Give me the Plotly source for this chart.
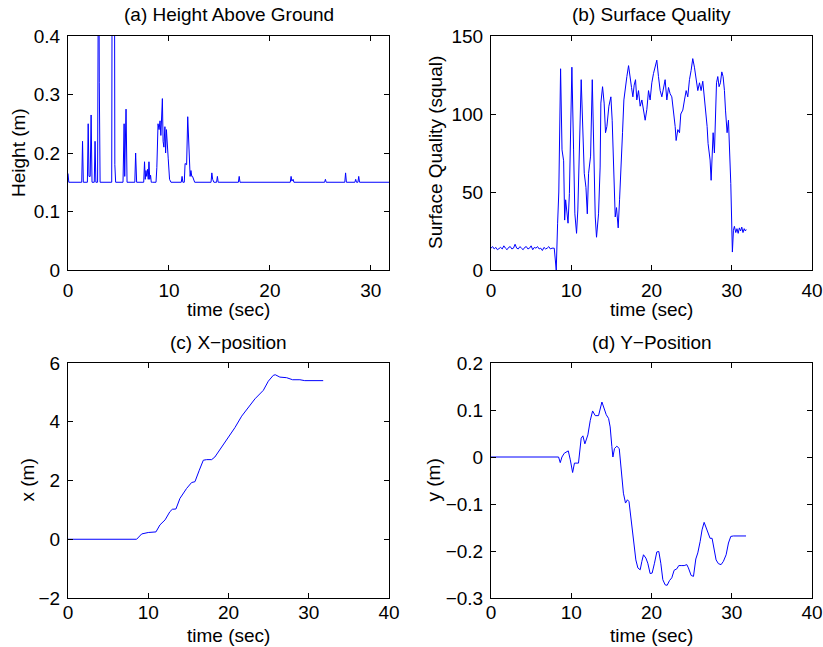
import plotly.graph_objects as go

# ---------------- data ----------------
# (a) Height above ground
t_a = [0, 0.08, 0.2, 1.36, 1.44, 1.52, 1.92, 2.0, 2.08, 2.2, 2.29, 2.38, 2.6, 2.68, 2.76,
       2.93, 3.0, 3.07, 3.1, 3.18, 4.33, 4.38, 4.6, 4.64, 4.72,
       5.45, 5.56, 5.62, 5.66, 5.75, 5.85, 6.62, 6.7, 6.8,
       7.5, 7.58, 7.65, 7.72, 7.8, 7.88, 7.95, 8.02, 8.1, 8.18, 8.25, 8.35,
       8.72, 8.8, 8.92, 9.02, 9.12, 9.2, 9.28, 9.35, 9.42, 9.5, 9.6, 9.67, 9.75, 9.85, 9.93, 10.06, 10.2,
       11.22, 11.3, 11.38, 11.52, 11.6, 11.75, 11.86, 11.95, 12.02, 12.1, 12.18, 12.26, 12.34, 12.42, 12.55,
       14.17, 14.25, 14.33, 14.45, 14.72, 14.8, 14.88,
       16.88, 16.96, 17.04,
       22.02, 22.1, 22.18, 22.3, 22.38,
       25.42, 25.5, 25.58,
       27.42, 27.5, 27.58,
       28.42, 28.5, 28.58, 28.72, 28.8, 28.88,
       31.8]
h_a = [0.165, 0.15, 0.15, 0.15, 0.22, 0.15, 0.15, 0.25, 0.16, 0.16, 0.265, 0.15, 0.15, 0.22, 0.15,
       0.15, 0.5, 0.5, 0.32, 0.15, 0.15, 0.6, 0.6, 0.18, 0.15,
       0.15, 0.25, 0.16, 0.2, 0.275, 0.15, 0.15, 0.2, 0.15,
       0.15, 0.185, 0.155, 0.17, 0.16, 0.172, 0.155, 0.185, 0.155, 0.162, 0.15, 0.15,
       0.15, 0.175, 0.25, 0.24, 0.255, 0.23, 0.255, 0.293, 0.22, 0.21, 0.245, 0.2, 0.24, 0.2, 0.19, 0.155, 0.15,
       0.15, 0.16, 0.15, 0.15, 0.182, 0.18, 0.262, 0.22, 0.2, 0.16, 0.17, 0.16, 0.16, 0.155, 0.15,
       0.15, 0.166, 0.155, 0.15, 0.15, 0.16, 0.15,
       0.15, 0.16, 0.15,
       0.15, 0.16, 0.152, 0.155, 0.15,
       0.15, 0.155, 0.15,
       0.15, 0.166, 0.15,
       0.15, 0.155, 0.15, 0.15, 0.16, 0.15,
       0.15]

# (b) Surface quality
t_b = [0.0, 0.2, 0.4, 0.6, 0.8, 1.0, 1.2, 1.4, 1.6, 1.8, 2.0, 2.2, 2.4, 2.6, 2.8, 3.0, 3.2, 3.4,
       3.6, 3.8, 4.0, 4.2, 4.4, 4.6, 4.8, 5.0, 5.2, 5.4, 5.6, 5.8, 6.0, 6.2, 6.4, 6.6, 6.8, 7.0,
       7.2, 7.4, 7.6, 7.88, 8.13, 8.3, 8.45, 8.67,
       8.85, 9.05, 9.18, 9.3, 9.47, 9.6, 9.77, 10.08,
       10.29, 10.45, 10.66, 10.82, 11.24, 11.45, 11.62, 11.83, 12.0, 12.16, 12.41,
       12.62, 12.82, 12.99, 13.15, 13.4, 13.6, 13.69, 13.9, 14.1, 14.27, 14.44, 14.69, 14.94,
       15.1, 15.31, 15.48, 15.64, 15.85, 16.02, 16.18, 16.39, 16.56,
       16.72, 16.93, 17.14, 17.34, 17.51, 17.68, 17.84, 18.01, 18.17, 18.38, 18.59, 18.8, 19.0,
       19.21, 19.42, 19.63, 19.83, 20.04, 20.25, 20.46, 20.66, 20.87, 21.08, 21.29, 21.49, 21.7,
       21.91, 22.12, 22.32, 22.53, 22.95, 23.07, 23.28, 23.49, 23.65, 23.9, 24.11, 24.32, 24.52,
       24.73, 24.94, 25.14, 25.35, 25.56, 25.77, 25.98, 26.18, 26.39, 26.56, 26.76, 26.93, 27.05,
       27.3, 27.43, 27.55, 27.68, 27.84, 27.97, 28.1, 28.26, 28.42, 28.59, 28.76, 28.92, 29.09,
       29.22, 29.42, 29.59, 29.88, 30.08, 30.21, 30.33, 30.5, 30.65, 30.8, 30.95, 31.1, 31.25,
       31.4, 31.55, 31.7, 31.8]
q_b = [14, 15, 13.5, 14.5, 13, 14, 14.5, 13.5, 15.5, 14, 13, 14.5, 15, 13.5, 14, 16.5, 14, 13.5,
       15, 14, 13, 14.5, 15, 13.5, 14, 15.5, 13, 14.5, 14, 15, 13.5, 14, 12.5, 14.5, 13.5, 14,
       15, 13.5, 14, 14, 0, 30, 50, 129,
       77, 70, 32, 45, 36, 30, 49, 130,
       77, 36, 23.5, 38.5, 122, 83, 62, 53, 36, 62, 73,
       122, 73, 34, 21, 36, 66, 107, 117.5, 107, 88, 92, 105, 111,
       96, 62, 34, 40, 27, 45, 68, 88, 109,
       117, 124, 131, 122, 117, 111, 118.5, 122, 109, 115, 105, 109, 102.5,
       96, 103, 115, 109, 120, 126, 130, 134.5, 124, 115, 111, 117, 122,
       109, 117, 113, 111, 92, 83, 90, 88, 100, 102.5, 109, 115, 111,
       122, 128, 135.5, 130, 122, 115, 120, 115, 121, 113, 102.5, 92, 81,
       70.5, 57.5, 75, 88, 75, 102.5, 120, 124, 117.5, 120, 127, 124, 115,
       102.5, 88, 96, 55.5, 11.5, 25.5, 28, 24, 26.5, 23.5, 27, 25, 27.5,
       24, 26.5, 25, 26]

# (c) X-position
t_c = [0, 8.55, 9.18, 10.0, 10.96, 11.46, 12.1, 12.7, 13.0, 13.45, 13.95, 14.78, 15.4, 15.82,
       16.36, 16.86, 17.28, 17.9, 18.3, 19.14, 19.97, 20.8, 21.64, 22.47, 23.3, 24.34, 24.96,
       25.58, 25.83, 26.4, 27.24, 27.99, 28.9, 29.5, 31.8]
x_c = [0, 0, 0.18, 0.23, 0.25, 0.49, 0.66, 0.94, 1.02, 1.03, 1.39, 1.73, 1.93, 1.96,
       2.35, 2.69, 2.71, 2.71, 2.8, 3.14, 3.48, 3.8, 4.19, 4.48, 4.78, 5.07, 5.38,
       5.58, 5.6, 5.52, 5.5, 5.43, 5.43, 5.4, 5.4]

# (d) Y-position
t_d = [0, 8.42, 8.63, 8.84, 9.13, 9.63, 9.88, 10.17, 10.4, 10.9, 11.24, 11.45, 11.7, 12.07,
       12.37, 12.66, 12.99, 13.4, 13.82, 14.02, 14.36, 14.65, 14.85, 15.06, 15.19, 15.39, 15.68,
       15.98, 16.22, 16.5, 16.76, 17.0, 17.2, 17.47, 17.76, 18.05, 18.3, 18.59, 18.8, 19.0,
       19.3, 19.54, 19.83, 20.08, 20.37, 20.66, 20.91, 21.16, 21.41, 21.7, 21.95, 22.24, 22.53,
       22.82, 23.15, 23.4, 23.78, 24.07, 24.4, 24.6, 24.94, 25.23, 25.52, 25.77, 26.06, 26.3,
       26.56, 26.8, 27.1, 27.3, 27.55, 27.8, 28.05, 28.34, 28.67, 28.96, 29.3, 29.59, 29.88,
       30.2, 31.78]
y_d = [0, 0, -0.012, 0, 0.008, 0.013, -0.006, -0.033, -0.013, -0.013, 0.04, 0.045, 0.028, 0.047,
       0.078, 0.098, 0.088, 0.088, 0.117, 0.107, 0.09, 0.082, 0.064, 0.022, 0, 0.018, 0.023,
       0.018, -0.02, -0.077, -0.098, -0.091, -0.095, -0.134, -0.176, -0.219, -0.236, -0.24, -0.222, -0.208,
       -0.215, -0.226, -0.248, -0.247, -0.226, -0.202, -0.201, -0.226, -0.261, -0.272, -0.273, -0.263, -0.257,
       -0.241, -0.238, -0.231, -0.231, -0.231, -0.229, -0.236, -0.252, -0.254, -0.217, -0.204, -0.18, -0.155,
       -0.139, -0.151, -0.165, -0.173, -0.173, -0.197, -0.219, -0.227, -0.229, -0.222, -0.208, -0.183, -0.169,
       -0.168, -0.168]

titles = ["(a) Height Above Ground", "(b) Surface Quality", "(c) X\u2212position", "(d) Y\u2212Position"]
ylabels = ["Height (m)", "Surface Quality (squal)", "x (m)", "y (m)"]
xlabel = "time (sec)"

# ---------------- figure ----------------
W, H = 823, 647
FONT = "Liberation Sans, Arial, Helvetica, sans-serif"
BLUE = "#0000ff"

fig = go.Figure()
series = [(t_a, h_a), (t_b, q_b), (t_c, x_c), (t_d, y_d)]
for i, (tx, ty) in enumerate(series):
    ax = "" if i == 0 else str(i + 1)
    fig.add_trace(go.Scatter(x=tx, y=ty, mode="lines", line=dict(color=BLUE, width=1),
                             xaxis="x" + ax, yaxis="y" + ax, showlegend=False, hoverinfo="skip"))

# plot areas in pixels (left, right, top, bottom)
boxes = [(68, 389, 36, 270), (491, 812, 36, 270), (68, 389, 363, 598), (491, 812, 363, 598)]
ylabel_x = [18, 435, 27, 433]          # pixel centre of the rotated y-axis titles
xlabel_gap = [39, 39, 37, 37]          # pixel distance below the axis of the x-axis title centre
xtick_standoff = [3, 3, -3, -3]
xranges = [[0, 31.8], [0, 40], [0, 40], [0, 40]]
yranges = [[0, 0.4], [0, 150], [-2, 6], [-0.3, 0.2]]
xdt = [10, 10, 10, 10]
ydt = [0.1, 50, 2, 0.1]

txtfont = dict(family=FONT, size=19, color="black")
axis_common = dict(showline=True, linecolor="black", linewidth=1, mirror="ticks",
                   ticks="inside", ticklen=5, tickcolor="black", showgrid=False, zeroline=False,
                   automargin=False, tickfont=txtfont)
layout = dict(width=W, height=H, margin=dict(l=0, r=0, t=0, b=0, autoexpand=False),
              paper_bgcolor="white", plot_bgcolor="white",
              font=dict(family=FONT, size=18, color="black"), annotations=[])
for i, (l, r, t, b) in enumerate(boxes):
    ax = "" if i == 0 else str(i + 1)
    layout["xaxis" + ax] = dict(axis_common, domain=[l / W, r / W], range=xranges[i], tick0=0,
                                dtick=xdt[i], ticklabelstandoff=xtick_standoff[i], anchor="y" + ax)
    layout["yaxis" + ax] = dict(axis_common, domain=[1 - b / H, 1 - t / H], range=yranges[i],
                                tick0=0, dtick=ydt[i], ticklabelstandoff=3, anchor="x" + ax)
    cx = (l + r) / 2 / W
    # panel title
    layout["annotations"].append(dict(text=titles[i], xref="paper", yref="paper",
                                      x=cx, y=1 - (t - 21) / H,
                                      xanchor="center", yanchor="middle", showarrow=False,
                                      font=txtfont))
    # x-axis title
    layout["annotations"].append(dict(text=xlabel, xref="paper", yref="paper",
                                      x=cx, y=1 - (b + xlabel_gap[i]) / H,
                                      xanchor="center", yanchor="middle", showarrow=False,
                                      borderpad=0, font=txtfont))
    # y-axis title
    layout["annotations"].append(dict(text=ylabels[i], xref="paper", yref="paper",
                                      x=ylabel_x[i] / W, y=1 - (t + b) / 2 / H, textangle=-90,
                                      xanchor="center", yanchor="middle", showarrow=False,
                                      font=txtfont))

fig.update_layout(**layout)
fig.write_html("out.html")
